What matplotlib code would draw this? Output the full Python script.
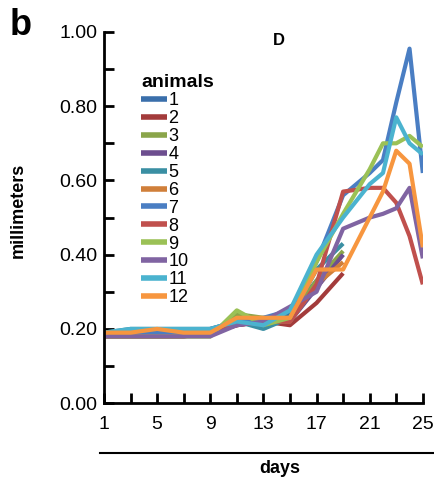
import numpy as np
import matplotlib.pyplot as plt

plt.rcParams['font.family'] = ['Liberation Sans', 'DejaVu Sans']

# measurement days (animals 1-6 stop at day 19)
days = [1, 3, 5, 7, 9, 11, 13, 15, 17, 19, 21, 22, 23, 24, 25]
na = np.nan

a1 = [0.19, 0.19, 0.19, 0.19, 0.19, 0.22, 0.22, 0.24, 0.33, 0.40, na, na, na, na, na]
a2 = [0.18, 0.18, 0.18, 0.18, 0.19, 0.21, 0.22, 0.21, 0.27, 0.35, na, na, na, na, na]
a3 = [0.18, 0.18, 0.18, 0.18, 0.18, 0.24, 0.23, 0.23, 0.33, 0.41, na, na, na, na, na]
a4 = [0.18, 0.18, 0.18, 0.18, 0.19, 0.21, 0.22, 0.22, 0.31, 0.40, na, na, na, na, na]
a5 = [0.19, 0.20, 0.20, 0.20, 0.20, 0.22, 0.20, 0.23, 0.36, 0.43, na, na, na, na, na]
a6 = [0.19, 0.19, 0.19, 0.19, 0.19, 0.22, 0.22, 0.22, 0.32, 0.38, na, na, na, na, na]
a7 = [0.19, 0.19, 0.19, 0.19, 0.20, 0.22, 0.23, 0.25, 0.38, 0.56, 0.62, 0.655, 0.81, 0.955, 0.62]
a8 = [0.18, 0.18, 0.18, 0.18, 0.19, 0.21, 0.22, 0.22, 0.32, 0.57, 0.58, 0.58, 0.54, 0.45, 0.32]
a9 = [0.18, 0.18, 0.18, 0.18, 0.18, 0.25, 0.21, 0.23, 0.38, 0.51, 0.63, 0.70, 0.70, 0.72, 0.69]
a10 = [0.18, 0.18, 0.18, 0.18, 0.18, 0.21, 0.22, 0.26, 0.30, 0.47, 0.50, 0.51, 0.525, 0.58, 0.39]
a11 = [0.19, 0.20, 0.20, 0.20, 0.20, 0.22, 0.21, 0.25, 0.40, 0.50, 0.59, 0.62, 0.77, 0.70, 0.67]
a12 = [0.19, 0.19, 0.20, 0.19, 0.19, 0.23, 0.23, 0.23, 0.36, 0.36, 0.50, 0.57, 0.68, 0.645, 0.42]

animals = [a1, a2, a3, a4, a5, a6, a7, a8, a9, a10, a11, a12]
names = [str(i) for i in range(1, 13)]
colors = ['#3A6FAB', '#A33B3B', '#8AA54A', '#6D4E8F', '#3A8FA3', '#D07F3A',
          '#4A7EC3', '#C0504D', '#9BC156', '#8064A2', '#4BB3CF', '#F7963F']

fig = plt.figure(figsize=(4.35, 4.84), dpi=100)
ax = fig.add_axes([0.239, 0.167, 0.733, 0.767])

for vals, nm, c in zip(animals, names, colors):
    ax.plot(days, vals, color=c, lw=3, label=nm, solid_capstyle='butt')

ax.set_xlim(1, 25)
ax.set_ylim(0, 1)
ax.set_xticks(np.arange(1, 26, 4))
ax.set_xticks(np.arange(1, 26, 2), minor=True)
ax.set_yticks(np.arange(0, 1.01, 0.2))
ax.set_yticks(np.arange(0, 1.01, 0.1), minor=True)
ax.set_yticklabels(['%.2f' % v for v in np.arange(0, 1.01, 0.2)])
for s in ['top', 'right']:
    ax.spines[s].set_visible(False)
for s in ['left', 'bottom']:
    ax.spines[s].set_linewidth(2)
ax.tick_params(which='both', direction='in', width=2, labelsize=14)
ax.tick_params(which='major', length=7)
ax.tick_params(which='minor', length=7)
ax.tick_params(axis='x', pad=9)
ax.tick_params(axis='y', pad=5)

# line under the tick labels
ax.plot([-0.0125, 1.034], [-0.135, -0.135], color='black', lw=1.5,
        transform=ax.transAxes, clip_on=False)
ax.text(0.55, -0.175, 'days', transform=ax.transAxes, ha='center', va='center',
        fontsize=13, fontweight='bold')
fig.text(0.042, 0.565, 'millimeters', rotation=90, ha='center', va='center',
         fontsize=13, fontweight='bold')
fig.text(0.048, 0.948, 'b', ha='center', va='center', fontsize=26, fontweight='bold')
fig.text(0.641, 0.917, 'D', ha='center', va='center', fontsize=12, fontweight='bold')

leg = ax.legend(loc='upper left', bbox_to_anchor=(0.095, 0.905), frameon=False,
                title='animals', fontsize=13, handlelength=1.4, handletextpad=0.1,
                labelspacing=0.05, borderaxespad=0)
leg.get_title().set_fontweight('bold')
leg.get_title().set_fontsize(14)
leg._legend_box.align = 'left'
for ln in leg.get_lines():
    ln.set_linewidth(4)

fig.savefig('out.png', dpi=100)
